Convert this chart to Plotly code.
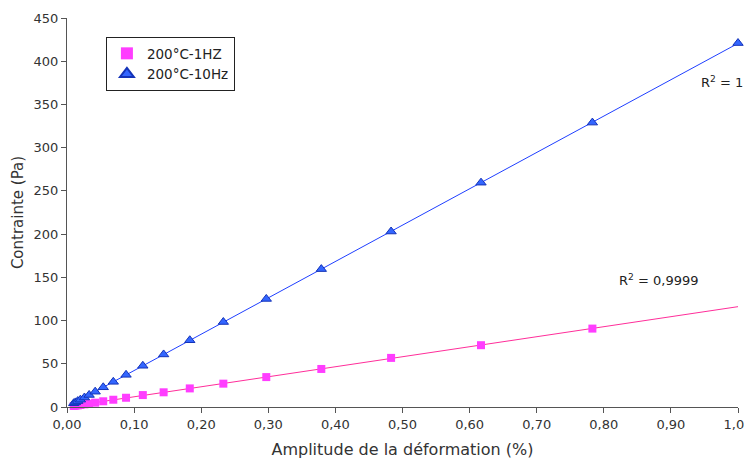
import numpy as np
import plotly.graph_objects as go

# Data
strain_10hz = [0.010, 0.0125, 0.016, 0.020, 0.026, 0.033, 0.042, 0.054, 0.069, 0.088,
               0.113, 0.144, 0.183, 0.233, 0.297, 0.379, 0.483, 0.617, 0.783, 1.0]
stress_10hz = [4.3, 5.3, 6.8, 8.5, 11.0, 13.9, 17.7, 22.8, 29.1, 37.2,
               47.7, 60.8, 77.2, 98.3, 125.0, 159.5, 203.0, 259.5, 329.0, 421.0]

strain_1hz = [0.010, 0.0125, 0.016, 0.020, 0.026, 0.033, 0.042, 0.054, 0.069, 0.088,
              0.113, 0.144, 0.183, 0.233, 0.297, 0.379, 0.483, 0.617, 0.783]
stress_1hz = [1.2, 1.5, 1.9, 2.4, 3.1, 3.9, 5.0, 6.6, 8.4, 10.7,
              13.8, 17.0, 21.5, 27.0, 34.6, 44.0, 56.8, 71.5, 90.7]

x_tickvals = [0.0, 0.1, 0.2, 0.3, 0.4, 0.5, 0.6, 0.7, 0.8, 0.9, 1.0]
x_ticktext = ["0,00", "0,10", "0,20", "0,30", "0,40", "0,50",
              "0,60", "0,70", "0,80", "0,90", "1,00"]
y_tickvals = [0, 50, 100, 150, 200, 250, 300, 350, 400, 450]

r2_labels = ["R<sup>2</sup> = 0,9999", "R<sup>2</sup> = 1"]

mag_line = "#ff2e9a"
mag_mark = "#ff3dff"
blue_line = "#1f3fff"
blue_mark = "#3366ff"
blue_edge = "#1433b8"

font_family = "DejaVu Sans, Verdana, sans-serif"

fig = go.Figure()

# Trend lines (linear fits)
c1 = np.polyfit(strain_1hz, stress_1hz, 1)
x1 = np.array([min(strain_1hz), 1.0])
fig.add_trace(go.Scatter(x=x1, y=np.polyval(c1, x1), mode="lines",
                         line=dict(color=mag_line, width=1), showlegend=False,
                         hoverinfo="skip"))
c10 = np.polyfit(strain_10hz, stress_10hz, 1)
x10 = np.array([min(strain_10hz), 1.0])
fig.add_trace(go.Scatter(x=x10, y=np.polyval(c10, x10), mode="lines",
                         line=dict(color=blue_line, width=1), showlegend=False,
                         hoverinfo="skip"))

fig.add_trace(go.Scatter(x=strain_1hz, y=stress_1hz, mode="markers",
                         name="200°C-1HZ", cliponaxis=False,
                         marker=dict(symbol="square", size=8, color=mag_mark,
                                     line=dict(width=0))))
fig.add_trace(go.Scatter(x=strain_10hz, y=stress_10hz, mode="markers",
                         name="200°C-10Hz", cliponaxis=False,
                         marker=dict(symbol="triangle-up", size=9, color=blue_mark,
                                     line=dict(width=1, color=blue_edge))))

fig.add_annotation(x=0.882, y=147, xref="x", yref="y", text=r2_labels[0],
                   showarrow=False, xanchor="center", yanchor="middle",
                   font=dict(size=13, color="#222", family=font_family))
fig.add_annotation(x=0.976, y=376, xref="x", yref="y", text=r2_labels[1],
                   showarrow=False, xanchor="center", yanchor="middle",
                   font=dict(size=13, color="#222", family=font_family))

# The page body adds an 8px margin; margins are offset to place the plot area.
fig.update_layout(
    width=752, height=460,
    margin=dict(l=59, r=22, t=10, b=61),
    paper_bgcolor="white", plot_bgcolor="white",
    font=dict(family=font_family, size=13, color="#333"),
    legend=dict(x=0.058, y=0.951, xanchor="left", yanchor="top",
                bgcolor="white", bordercolor="#222", borderwidth=1,
                font=dict(size=13.5, color="#222"), tracegroupgap=0,
                itemwidth=30, itemsizing="constant"),
    xaxis=dict(range=[0, 1.0], tickmode="array", tickvals=x_tickvals,
               ticktext=x_ticktext, ticklabeloverflow="allow",
               showgrid=False, zeroline=False, automargin=False,
               showline=True, linecolor="#555", linewidth=1,
               ticks="outside", ticklen=5, tickcolor="#555",
               title=dict(text="Amplitude de la déformation (%)",
                          font=dict(size=16, color="#333"), standoff=13)),
    yaxis=dict(range=[0, 450], tickmode="array", tickvals=y_tickvals,
               showgrid=False, zeroline=False, automargin=False,
               showline=True, linecolor="#555", linewidth=1,
               ticks="outside", ticklen=5, tickcolor="#555",
               title=dict(text="Contrainte (Pa)",
                          font=dict(size=15, color="#333"), standoff=6)),
)

fig.write_html("out.html")
